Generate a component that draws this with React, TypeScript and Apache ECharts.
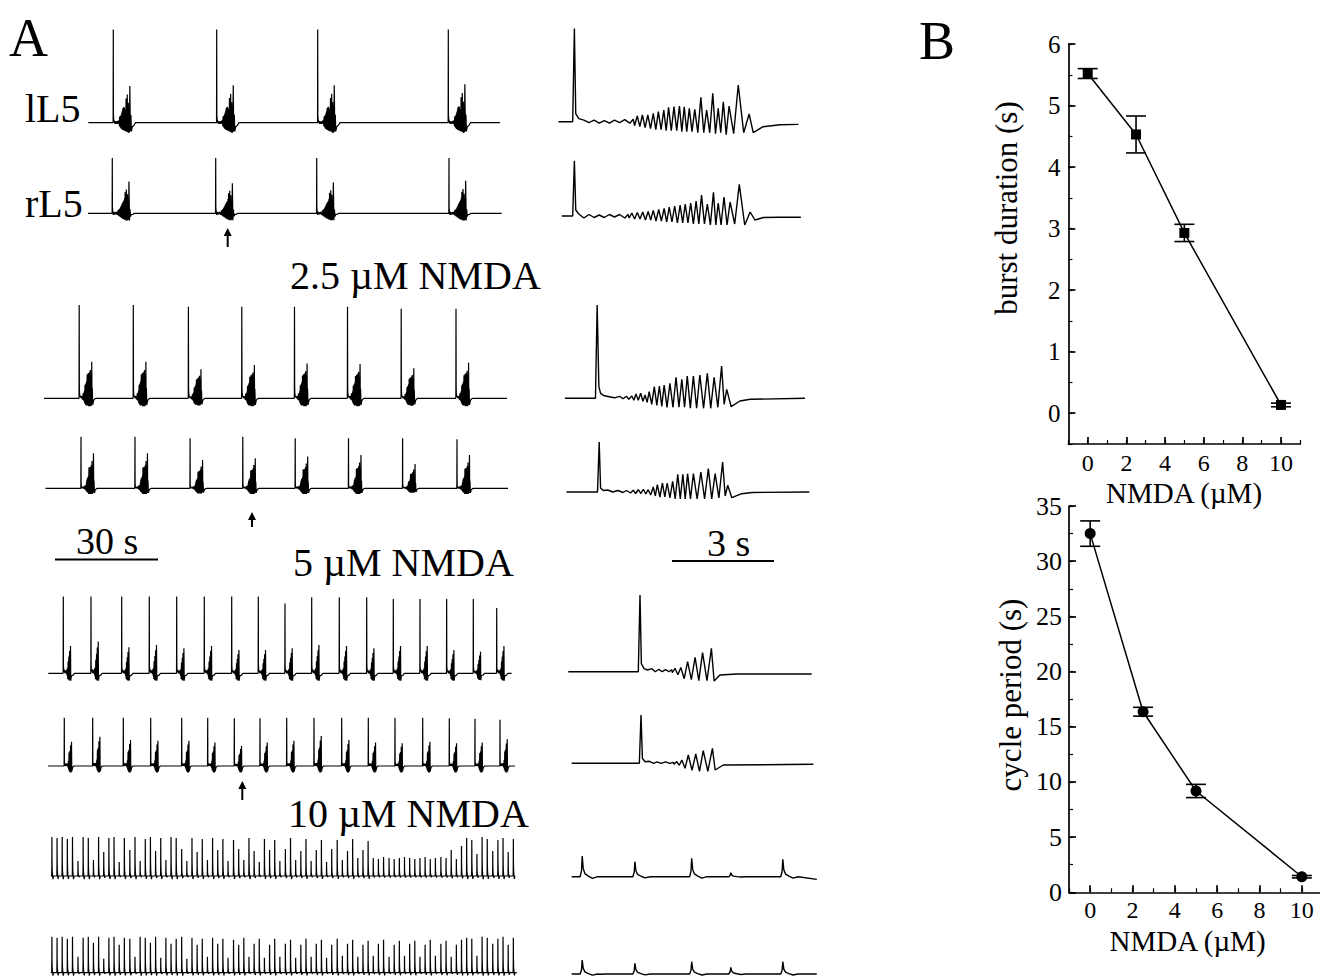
import React, { useEffect, useRef } from "react";
import * as echarts from "echarts";

const FONT = '"Liberation Serif", "Times New Roman", "DejaVu Serif", serif';

// ================= Panel B data =================
const nmdaConc = [0, 2.5, 5, 10];
const burstDuration = [5.52, 4.53, 2.93, 0.135];
const burstDurationErr = [0.08, 0.3, 0.14, 0.03];
const cyclePeriod = [32.5, 16.36, 9.18, 1.41];
const cyclePeriodErr = [1.15, 0.4, 0.6, 0.11];
const bXTicks = [0, 2, 4, 6, 8, 10];
const burstYTicks = [0, 1, 2, 3, 4, 5, 6];
const periodYTicks = [0, 5, 10, 15, 20, 25, 30, 35];

// ================= Panel A data =================
// Expanded bursts (right column): time in s, amplitude in arbitrary units
type Burst = {
  span: number[];
  spike: number[];
  quiet: number[][];
  peakT: number[];
  peakA: number[];
  troughA: number[];
  after: number[][];
  endA: number;
};

const ctrlLeftRootBurst: Burst = {
  span: [0.1, 7.16],
  spike: [0.57, 93.3],
  quiet: [[0.61, 8], [0.7, 3], [0.85, 1.5], [1.0, -1], [1.15, 1.5], [1.3, -1.5], [1.45, 1], [1.6, -1.5], [1.75, 1.5], [1.9, -1], [2.05, 2], [2.2, -1.5], [2.3, 2.5]],
  peakT: [2.42, 2.57, 2.73, 2.89, 3.04, 3.2, 3.34, 3.5, 3.66, 3.8, 3.95, 4.11, 4.29, 4.46, 4.64, 4.8, 4.95, 5.12, 5.39, 5.71],
  peakA: [5.7, 6.7, 6.7, 8.3, 10, 11.7, 14.3, 15, 15.7, 15, 13.3, 12.3, 24.3, 11.7, 28.3, 13.3, 20, 15.7, 36.7, 7.7],
  troughA: [-4, -5, -6, -7, -8, -8, -9, -9, -9, -10, -10, -10, -11, -11, -11, -12, -11, -13, -12, -11],
  after: [[5.83, -11], [6.12, -5], [6.62, -3]],
  endA: -2.7,
};
const ctrlRightRootBurst: Burst = {
  span: [0.2, 7.23],
  spike: [0.57, 55.3],
  quiet: [[0.61, 6], [0.7, 2], [0.85, -2], [1.0, 1.5], [1.15, -1.5], [1.3, 1], [1.45, -1.5], [1.6, 1.5], [1.75, -1], [1.9, 1.5], [2.05, -2], [2.15, 1.5]],
  peakT: [2.26, 2.42, 2.58, 2.74, 2.89, 3.05, 3.21, 3.36, 3.52, 3.68, 3.83, 3.99, 4.15, 4.31, 4.48, 4.66, 4.8, 4.97, 5.15, 5.42, 5.74],
  peakA: [3, 3.5, 4, 4.5, 5.5, 6.5, 7.7, 9, 10, 11, 12, 13, 15, 21, 12, 23.7, 13, 19, 14, 31.7, 4],
  troughA: [-2, -3, -3, -4, -4, -5, -5, -6, -6, -7, -7, -7, -8, -8, -8, -9, -9, -9, -9, -8, -9],
  after: [[5.88, -4], [6.13, -1.5], [6.6, -1.3]],
  endA: -1.3,
};
const nm25LeftRootBurst: Burst = {
  span: [0.29, 7.35],
  spike: [1.24, 93.3],
  quiet: [[1.29, 12], [1.34, 5], [1.45, 2.5], [1.6, 1.5], [1.75, 0.5], [1.9, 2], [2.0, -0.5], [2.1, 2], [2.17, -1]],
  peakT: [2.26, 2.38, 2.52, 2.65, 2.77, 2.92, 3.07, 3.21, 3.38, 3.56, 3.73, 3.89, 4.07, 4.26, 4.48, 4.68, 4.9, 5.05],
  peakA: [2.3, 4.3, 5, 3.3, 6.7, 11.7, 12.3, 13.3, 15, 21, 19, 22.3, 22.3, 23.3, 25, 21, 32.3, 9],
  troughA: [-1, -2, -2, -3, -4, -6, -7, -8, -9, -9, -9, -9, -10, -10, -10, -10, -9, -6],
  after: [[5.18, -8.3], [5.44, -2.7], [5.74, -1]],
  endA: 0,
};
const nm25RightRootBurst: Burst = {
  span: [0.34, 7.48],
  spike: [1.3, 50],
  quiet: [[1.34, 4], [1.42, 1.5], [1.55, 2], [1.7, 0], [1.85, 1.5], [2.0, -0.5], [2.1, 1.5], [2.2, -0.5]],
  peakT: [2.3, 2.45, 2.6, 2.74, 2.89, 3.01, 3.16, 3.3, 3.46, 3.61, 3.76, 3.9, 4.07, 4.29, 4.51, 4.71, 4.93, 5.08],
  peakA: [1.7, 2.3, 2.7, 2.3, 5, 7.3, 9, 9, 10.7, 17.7, 17.7, 18.3, 18.3, 20, 23.3, 18.3, 30, 6.7],
  troughA: [-1, -1.5, -1.5, -2, -3, -4, -5, -5, -6, -7, -7, -7, -7, -7, -7, -7, -6, -4],
  after: [[5.2, -5.7], [5.49, -1.7], [5.8, -0.5]],
  endA: 0,
};
const nm5LeftRootBurst: Burst = {
  span: [0.39, 7.55],
  spike: [2.5, 76.7],
  quiet: [[2.54, 8], [2.62, 3], [2.72, 1.7], [2.85, 3], [2.95, 0], [3.05, 2.5], [3.15, 0], [3.25, 2], [3.35, 0], [3.43, 2]],
  peakT: [3.53, 3.7, 3.9, 4.12, 4.34, 4.6],
  peakA: [3.3, 4.3, 10, 14.3, 19, 23.3],
  troughA: [-1, -3, -7, -8, -9, -9],
  after: [[4.68, -9.3], [4.85, -3.3], [5.34, -2.3]],
  endA: -2.3,
};
const nm5RightRootBurst: Burst = {
  span: [0.49, 7.6],
  spike: [2.53, 48.3],
  quiet: [[2.57, 5], [2.65, 1.5], [2.78, 2], [2.9, 0], [3.0, 1.5], [3.12, 0], [3.25, 1.5], [3.38, 0], [3.48, 1]],
  peakT: [3.58, 3.73, 3.92, 4.14, 4.36, 4.63],
  peakA: [1.7, 3.3, 8.3, 9.3, 12.7, 15],
  troughA: [-1, -2, -5, -7, -8, -8],
  after: [[4.71, -6.7], [4.95, -1.7]],
  endA: -1,
};

// 10 µM expanded (right column): single events
const nm10SpikeShape = [[-0.06, 0], [-0.02, 0.3], [0, 1], [0.03, 0.4], [0.08, 0.15], [0.18, 0.03], [0.3, -0.08], [0.45, 0]];
const nm10LeftRootSpan = [0.49, 7.7];
const nm10LeftRootPeakT = [0.8, 2.35, 4.02, 5.17, 6.7];
const nm10LeftRootPeakA = [20.7, 15, 18.3, 4, 17.3];
const nm10LeftRootEndA = -2.7;
const nm10RightRootSpan = [0.49, 7.7];
const nm10RightRootPeakT = [0.8, 1.03, 2.35, 4.02, 5.17, 6.7];
const nm10RightRootPeakA = [14, 2.3, 10.7, 12.3, 6.7, 12.3];
const nm10RightRootEndA = 0;

// Slow time-scale records (left column): event onsets (s) and per-event scales
const ctrlLeftEvents = [20.18, 50.3, 79.72, 117.76];
const ctrlLeftSpan = [12.9, 132.8];
const ctrlLeftSpikeScale = [1, 1, 1, 1];
const ctrlLeftBurstScale = [1, 1.02, 1.02, 1.05];
const ctrlRightEvents = [19.89, 50.01, 79.43, 117.96];
const ctrlRightSpan = [12.81, 133.3];
const ctrlRightSpikeScale = [1, 1, 1, 1];
const ctrlRightBurstScale = [1, 0.95, 0.97, 1.03];

const nm25LeftEvents = [10.25, 26.01, 42.06, 57.61, 72.96, 88.4, 104.04, 120.0];
const nm25LeftSpan = [0, 134.85];
const nm25LeftSpikeScale = [1, 1, 0.98, 0.98, 0.98, 0.98, 0.96, 0.96];
const nm25LeftBurstScale = [1.13, 1.13, 0.9, 1.03, 1.08, 1.06, 0.93, 1.1];
const nm25RightEvents = [10.78, 26.5, 42.55, 57.9, 73.17, 88.69, 104.45, 120.29];
const nm25RightSpan = [0.44, 135.15];
const nm25RightSpikeScale = [1.03, 1.03, 1, 1.03, 1, 1, 1, 0.98];
const nm25RightBurstScale = [1.17, 1.17, 0.94, 1, 1.06, 1.11, 0.81, 1.11];

const nm5LeftEvents = [5.62, 13.69, 22.63, 30.67, 38.65, 46.69, 54.67, 62.42, 70.19, 77.97, 86.01, 93.99, 101.74, 109.51, 117.28, 125.04, 131.86];
const nm5LeftSpan = [1.25, 136.2];
const nm5LeftSpikeScale = [1, 1, 1, 1, 1, 1, 1, 1, 0.91, 0.99, 0.99, 0.99, 0.97, 0.97, 0.97, 0.97, 0.85];
const nm5LeftBurstScale = [1.17, 1.36, 1.12, 1.21, 1.07, 1.17, 1, 1, 1.07, 1.21, 1.17, 1.07, 1.17, 1.17, 1, 0.93, 1.17];
const nm5RightEvents = [5.91, 14.18, 23.1, 31.08, 40.11, 47.68, 55.43, 62.91, 70.69, 78.64, 86.71, 94.46, 102.23, 110.3, 118.05, 125.53, 132.82];
const nm5RightSpan = [1.17, 137.2];
const nm5RightSpikeScale = [1, 1, 1, 1, 1, 1, 0.99, 0.99, 1, 1, 1, 1, 1, 1, 0.99, 0.98, 0.96];
const nm5RightBurstScale = [1.62, 1.95, 1.73, 1.69, 1.69, 1.56, 1.33, 1.56, 1.69, 2.0, 1.73, 1.56, 1.51, 1.62, 1.51, 1.56, 1.78];

const nm10Times = [
  2.3, 3.8, 5.3, 6.8, 8.3, 9.9, 11.4, 12.9, 14.4, 15.9,
  17.4, 18.9, 20.4, 21.9, 23.4, 25.0, 26.5, 28.0, 29.5, 31.0,
  32.5, 34.0, 35.5, 37.0, 38.5, 40.1, 41.6, 43.1, 44.6, 46.1,
  47.6, 49.1, 50.6, 52.1, 53.6, 55.2, 56.7, 58.2, 59.7, 61.2,
  62.7, 64.2, 65.7, 67.2, 68.7, 70.3, 71.8, 73.3, 74.8, 76.3,
  77.8, 79.3, 80.8, 82.3, 83.8, 85.4, 86.9, 88.4, 89.9, 91.4,
  92.9, 94.4, 95.9, 97.4, 98.9, 100.5, 102.0, 103.5, 105.0, 106.5,
  108.0, 109.5, 111.0, 112.5, 114.0, 115.6, 117.1, 118.6, 120.1, 121.6,
  123.1, 124.6, 126.1, 127.6, 129.1, 130.7, 132.2, 133.7, 135.2, 136.7,
];
const nm10LeftHeights = [
  39, 38, 39, 37, 39, 15, 39, 38, 16, 39,
  24, 38, 39, 14, 38, 26, 39, 15, 37, 39,
  25, 38, 16, 39, 38, 27, 15, 38, 24, 37,
  16, 38, 26, 37, 15, 36, 27, 16, 38, 25,
  14, 37, 26, 36, 15, 27, 38, 16, 25, 37,
  15, 26, 36, 14, 27, 36, 16, 25, 37, 18,
  26, 35, 18, 17, 19, 18, 17, 18, 19, 18,
  17, 18, 19, 17, 18, 19, 18, 26, 17, 30,
  38, 36, 22, 39, 37, 25, 36, 38, 24, 37,
];
const nm10RightHeights = [
  36, 35, 36, 34, 36, 16, 35, 36, 30, 36,
  14, 35, 36, 28, 35, 34, 16, 36, 35, 30,
  36, 15, 35, 29, 34, 36, 14, 35, 28, 34,
  16, 35, 29, 34, 15, 33, 28, 35, 16, 29,
  34, 15, 28, 34, 16, 29, 33, 15, 28, 34,
  16, 29, 33, 15, 28, 34, 17, 29, 33, 16,
  28, 32, 17, 29, 33, 16, 28, 32, 17, 29,
  32, 16, 28, 33, 17, 29, 32, 16, 28, 33,
  35, 34, 17, 36, 35, 29, 34, 36, 28, 35,
];
const nm10LeftSpan = [1.95, 137.2];
const nm10RightSpan = [1.95, 137.7];

// ================= builders =================
function burstPoints(b: Burst): number[][] {
  const pts: number[][] = [[b.span[0], 0], [b.spike[0] - 0.05, 0], [b.spike[0], b.spike[1]]];
  b.quiet.forEach((p) => pts.push([p[0], p[1]]));
  b.peakT.forEach((t, i) => {
    const prev = i === 0 ? t - 0.16 : b.peakT[i - 1];
    pts.push([(prev + t) / 2, b.troughA[i]]);
    pts.push([t, b.peakA[i]]);
  });
  b.after.forEach((p) => pts.push([p[0], p[1]]));
  pts.push([b.span[1], b.endA]);
  return pts;
}

function slowFromBurst(b: Burst, events: number[], span: number[], spikeScale: number[], burstScale: number[]): number[][] {
  const lastT = b.after[b.after.length - 1][0];
  const tmpl = burstPoints(b).filter((p) => p[0] >= b.spike[0] - 0.05 && p[0] <= lastT);
  const pts: number[][] = [[span[0], 0]];
  events.forEach((T, k) => {
    tmpl.forEach((p) => {
      const rel = p[0] - b.spike[0];
      let s = rel < 0.3 ? spikeScale[k] : burstScale[k];
      if (p[1] < 0) s = Math.min(s, 1) * 0.8;
      pts.push([T + rel, p[1] * s]);
    });
    pts.push([T + (lastT - b.spike[0]) + 0.4, 0]);
  });
  pts.push([span[1], 0]);
  return pts;
}

function spikeTrain(times: number[], heights: number[], span: number[], endA: number): number[][] {
  const pts: number[][] = [[span[0], 0]];
  times.forEach((T, i) => {
    nm10SpikeShape.forEach((s) => {
      const t = T + s[0];
      if (t > pts[pts.length - 1][0]) pts.push([t, heights[i] * s[1]]);
    });
  });
  pts.push([span[1], endA]);
  return pts;
}

// ================= layout (positions only) =================
const LEFT_X0 = 44;
const LEFT_W = 475;
const LEFT_PX_PER_S = 103 / 30;
const RIGHT_X0 = 555;
const RIGHT_W = 265;
const RIGHT_PX_PER_S = 34;
const leftBaselines = [122.7, 213.3, 398.3, 488.3, 673.3, 766, 876, 972.7];
const rightBaselines = [121.7, 216, 398.3, 492, 671.7, 763.3, 876.7, 974];

function buildOption(): any {
  const grids: any[] = [];
  const xAxes: any[] = [];
  const yAxes: any[] = [];
  const series: any[] = [];

  const addTrace = (left: number, width: number, pxPerS: number, yb: number, data: number[][], lw: number) => {
    const i = grids.length;
    grids.push({ left, top: yb - 100, width, height: 130, outerBoundsMode: "none" });
    xAxes.push({ type: "value", gridIndex: i, min: 0, max: width / pxPerS, show: false });
    yAxes.push({ type: "value", gridIndex: i, min: -30, max: 100, show: false });
    series.push({
      type: "line",
      xAxisIndex: i,
      yAxisIndex: i,
      data,
      symbol: "none",
      showSymbol: false,
      silent: true,
      clip: false,
      lineStyle: { color: "#000", width: lw },
    });
  };

  const leftData = [
    slowFromBurst(ctrlLeftRootBurst, ctrlLeftEvents, ctrlLeftSpan, ctrlLeftSpikeScale, ctrlLeftBurstScale),
    slowFromBurst(ctrlRightRootBurst, ctrlRightEvents, ctrlRightSpan, ctrlRightSpikeScale, ctrlRightBurstScale),
    slowFromBurst(nm25LeftRootBurst, nm25LeftEvents, nm25LeftSpan, nm25LeftSpikeScale, nm25LeftBurstScale),
    slowFromBurst(nm25RightRootBurst, nm25RightEvents, nm25RightSpan, nm25RightSpikeScale, nm25RightBurstScale),
    slowFromBurst(nm5LeftRootBurst, nm5LeftEvents, nm5LeftSpan, nm5LeftSpikeScale, nm5LeftBurstScale),
    slowFromBurst(nm5RightRootBurst, nm5RightEvents, nm5RightSpan, nm5RightSpikeScale, nm5RightBurstScale),
    spikeTrain(nm10Times, nm10LeftHeights, nm10LeftSpan, 0),
    spikeTrain(nm10Times, nm10RightHeights, nm10RightSpan, 0),
  ];
  const rightData = [
    burstPoints(ctrlLeftRootBurst),
    burstPoints(ctrlRightRootBurst),
    burstPoints(nm25LeftRootBurst),
    burstPoints(nm25RightRootBurst),
    burstPoints(nm5LeftRootBurst),
    burstPoints(nm5RightRootBurst),
    spikeTrain(nm10LeftRootPeakT, nm10LeftRootPeakA, nm10LeftRootSpan, nm10LeftRootEndA),
    spikeTrain(nm10RightRootPeakT, nm10RightRootPeakA, nm10RightRootSpan, nm10RightRootEndA),
  ];
  leftData.forEach((d, r) => addTrace(LEFT_X0, LEFT_W, LEFT_PX_PER_S, leftBaselines[r], d, 1.2));
  rightData.forEach((d, r) => addTrace(RIGHT_X0, RIGHT_W, RIGHT_PX_PER_S, rightBaselines[r], d, 1.4));

  // ----- Panel B -----
  const gTop = grids.length;
  grids.push({ left: 1068.4, top: 44, width: 231.9, height: 400, outerBoundsMode: "none" });
  const gBot = grids.length;
  grids.push({ left: 1069, top: 506, width: 254, height: 386.3, outerBoundsMode: "none" });

  const axisLineStyle = { color: "#000", width: 1.7 };
  const labelStyle = (fs: number) => ({ color: "#000", fontFamily: FONT, fontSize: fs });
  const mainAxis = (gridIndex: number, min: number, max: number, interval: number, ticks: number[], fs: number, position: string, margin: number) => ({
    type: "value",
    gridIndex,
    min,
    max,
    interval,
    position,
    axisLine: { show: true, onZero: false, lineStyle: axisLineStyle },
    axisTick: { show: true, inside: true, length: 7, customValues: ticks, lineStyle: axisLineStyle },
    axisLabel: {
      ...labelStyle(fs),
      margin,
      customValues: ticks,
      showMinLabel: true,
      showMaxLabel: true,
      formatter: (v: number) => (ticks.indexOf(v) >= 0 ? String(v) : ""),
    },
    splitLine: { show: false },
  });
  const minorAxis = (gridIndex: number, min: number, max: number, interval: number, position: string) => ({
    type: "value",
    gridIndex,
    min,
    max,
    interval,
    position,
    axisLine: { show: false, onZero: false },
    axisTick: { show: true, inside: true, length: 4, lineStyle: { color: "#000", width: 1.2 } },
    axisLabel: { show: false },
    splitLine: { show: false },
  });

  const xTopMain = xAxes.length;
  xAxes.push(mainAxis(gTop, -1, 11, 1, bXTicks, 24, "bottom", 7));
  xAxes.push(minorAxis(gTop, -1, 11, 1, "bottom"));
  const yTopMain = yAxes.length;
  yAxes.push(mainAxis(gTop, -0.5, 6, 0.5, burstYTicks, 25, "left", 8));
  yAxes.push(minorAxis(gTop, -0.5, 6, 0.5, "left"));

  const xBotMain = xAxes.length;
  xAxes.push(mainAxis(gBot, -1, 11, 1, bXTicks, 24, "bottom", 6));
  xAxes.push(minorAxis(gBot, -1, 11, 1, "bottom"));
  const yBotMain = yAxes.length;
  yAxes.push(mainAxis(gBot, 0, 35, 2.5, periodYTicks, 26, "left", 7));
  yAxes.push(minorAxis(gBot, 0, 35, 2.5, "left"));

  const errRender = (params: any, api: any) => {
    const x = api.value(0);
    const lo = api.value(2);
    const hi = api.value(3);
    const pHi = api.coord([x, hi]);
    const pLo = api.coord([x, lo]);
    const w = 10;
    const st = { stroke: "#000", lineWidth: 1.6 };
    return {
      type: "group",
      children: [
        { type: "line", shape: { x1: pHi[0], y1: pHi[1], x2: pLo[0], y2: pLo[1] }, style: st },
        { type: "line", shape: { x1: pHi[0] - w, y1: pHi[1], x2: pHi[0] + w, y2: pHi[1] }, style: st },
        { type: "line", shape: { x1: pLo[0] - w, y1: pLo[1], x2: pLo[0] + w, y2: pLo[1] }, style: st },
      ],
    };
  };

  series.push({
    type: "line",
    xAxisIndex: xTopMain,
    yAxisIndex: yTopMain,
    data: nmdaConc.map((x, i) => [x, burstDuration[i]]),
    symbol: "rect",
    symbolSize: 10,
    itemStyle: { color: "#000" },
    lineStyle: { color: "#000", width: 1.5 },
    z: 5,
  });
  series.push({
    type: "custom",
    xAxisIndex: xTopMain,
    yAxisIndex: yTopMain,
    data: nmdaConc.map((x, i) => [x, burstDuration[i], burstDuration[i] - burstDurationErr[i], burstDuration[i] + burstDurationErr[i]]),
    encode: { x: 0, y: 1 },
    renderItem: errRender,
    z: 4,
  });
  series.push({
    type: "line",
    xAxisIndex: xBotMain,
    yAxisIndex: yBotMain,
    data: nmdaConc.map((x, i) => [x, cyclePeriod[i]]),
    symbol: "circle",
    symbolSize: 11,
    itemStyle: { color: "#000" },
    lineStyle: { color: "#000", width: 1.5 },
    z: 5,
  });
  series.push({
    type: "custom",
    xAxisIndex: xBotMain,
    yAxisIndex: yBotMain,
    data: nmdaConc.map((x, i) => [x, cyclePeriod[i], cyclePeriod[i] - cyclePeriodErr[i], cyclePeriod[i] + cyclePeriodErr[i]]),
    encode: { x: 0, y: 1 },
    renderItem: errRender,
    z: 4,
  });

  const txt = (text: string, x: number, y: number, fs: number, extra: any = {}) => ({
    type: "text",
    x,
    y,
    ...extra,
    style: { text, fontSize: fs, fontFamily: FONT, fill: "#000", align: "left", verticalAlign: "middle", ...(extra.style || {}) },
  });
  const arrow = (x: number, tip: number, tail: number) => [
    { type: "line", shape: { x1: x, y1: tip + 5, x2: x, y2: tail }, style: { stroke: "#000", lineWidth: 2 } },
    { type: "polygon", shape: { points: [[x, tip], [x - 4, tip + 8], [x + 4, tip + 8]] }, style: { fill: "#000" } },
  ];

  const graphic: any[] = [
    txt("A", 9, 38, 54),
    txt("B", 919, 41, 54),
    txt("lL5", 25, 108.5, 40),
    txt("rL5", 25, 203.5, 40),
    txt("2.5 µM NMDA", 290, 275, 40),
    txt("30 s", 76, 540.5, 38),
    txt("5 µM NMDA", 293, 562.5, 40),
    txt("3 s", 707, 542.5, 38),
    txt("10 µM NMDA", 288, 813.5, 40),
    { type: "line", shape: { x1: 55, y1: 559.5, x2: 158, y2: 559.5 }, style: { stroke: "#000", lineWidth: 2 } },
    { type: "line", shape: { x1: 672, y1: 561, x2: 774, y2: 561 }, style: { stroke: "#000", lineWidth: 2 } },
    ...arrow(227.7, 228, 247),
    ...arrow(252, 512, 527),
    ...arrow(242.3, 781, 800),
    txt("burst duration (s)", 1006, 208, 31, { rotation: Math.PI / 2, style: { align: "center" } }),
    txt("cycle period (s)", 1010, 695, 31, { rotation: Math.PI / 2, style: { align: "center" } }),
    txt("NMDA (µM)", 1184, 493, 29, { style: { align: "center" } }),
    txt("NMDA (µM)", 1187.5, 941, 29, { style: { align: "center" } }),
  ];

  return {
    animation: false,
    backgroundColor: "#fff",
    textStyle: { fontFamily: FONT },
    grid: grids,
    xAxis: xAxes,
    yAxis: yAxes,
    series,
    graphic,
  };
}

export default function App() {
  const ref = useRef<HTMLDivElement>(null);
  useEffect(() => {
    if (!ref.current) return;
    const chart = echarts.init(ref.current, undefined, { renderer: "svg" });
    chart.setOption(buildOption());
    return () => chart.dispose();
  }, []);
  return (
    <div
      ref={ref}
      style={{ position: "absolute", left: 0, top: 0, width: 1320, height: 977, background: "#fff" }}
    />
  );
}
